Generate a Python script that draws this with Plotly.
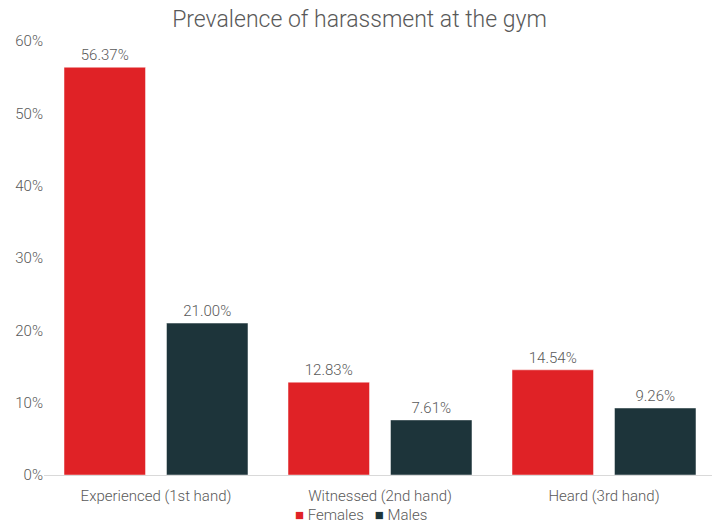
import plotly.graph_objects as go

categories = ["Experienced (1st hand)", "Witnessed (2nd hand)", "Heard (3rd hand)"]
females = [56.37, 12.83, 14.54]
males = [21.00, 7.61, 9.26]
tick_vals = [0, 10, 20, 30, 40, 50, 60]
tick_text = ["0%", "10%", "20%", "30%", "40%", "50%", "60%"]

red = "#E02226"
dark = "#1D343A"
font = dict(family="Roboto", size=15, color="#595959", weight=300)

fig = go.Figure()
fig.add_trace(go.Bar(
    name="Females", x=categories, y=females,
    marker=dict(color=red, line=dict(color="rgba(255,255,255,0.45)", width=1)),
    text=[f"{v:.2f}%" for v in females], textposition="outside",
    textfont=font, cliponaxis=False,
))
fig.add_trace(go.Bar(
    name="Males", x=categories, y=males,
    marker=dict(color=dark, line=dict(color="rgba(255,255,255,0.45)", width=1)),
    text=[f"{v:.2f}%" for v in males], textposition="outside",
    textfont=font, cliponaxis=False,
))

# compact legend drawn as text under the axis
fig.add_annotation(
    text=(f"<span style='color:{red}'>■</span> Females   "
          f"<span style='color:{dark}'>■</span> Males"),
    xref="paper", yref="paper", x=0.4717, y=-0.0922, xanchor="center", yanchor="middle",
    showarrow=False, font=font,
)

fig.update_layout(
    width=712, height=519,
    title=dict(text="Prevalence of harassment at the gym", x=0.4937, xanchor="center",
               y=0.9788, yanchor="middle",
               font=dict(family="Roboto", size=23, color="#595959", weight=300)),
    font=font,
    plot_bgcolor="white", paper_bgcolor="white",
    barmode="group", bargap=0.085, bargroupgap=0.205,
    margin=dict(l=36, r=4, t=33, b=52),
    showlegend=False,
    uniformtext=dict(mode=False),
)
fig.update_yaxes(range=[0, 60], tickvals=tick_vals, ticktext=tick_text,
                 showgrid=False, zeroline=False, showline=False, ticks="",
                 tickfont=font, automargin=False)
fig.update_xaxes(showline=True, linecolor="#D9D9D9", linewidth=1, ticks="",
                 showgrid=False, tickfont=font, automargin=False,
                 ticklabelstandoff=7)

fig.write_html("out.html")
